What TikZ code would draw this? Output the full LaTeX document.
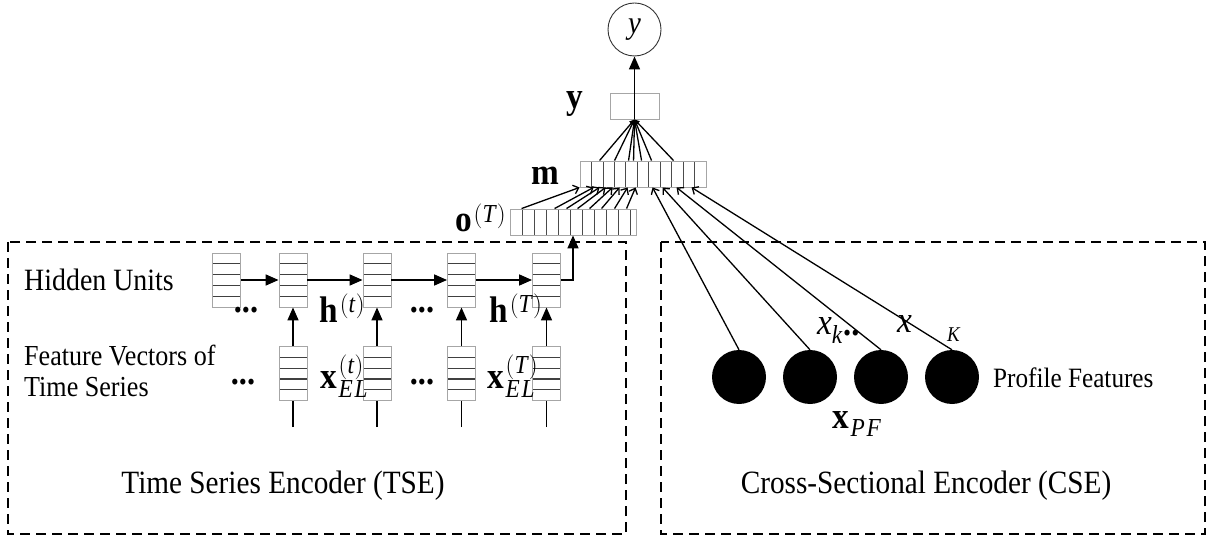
\documentclass[tikz,border=0pt]{standalone}
\usepackage{fontspec}
\setmainfont{Liberation Serif}[FakeStretch=0.9]
\usetikzlibrary{arrows.meta,calc}
\newcommand\fsz[1]{\fontsize{#1}{#1}\selectfont}
\begin{document}
\begin{tikzpicture}[x=1pt,y=-1pt,
  stackbox/.style={draw=gray!70, line width=0.9pt, fill=white, minimum width=28pt, minimum height=54pt, inner sep=0pt,
    path picture={\foreach \k in {1,...,4}{\draw[line width=1.2pt, black!75]
      ($(path picture bounding box.north west)!\k/5!(path picture bounding box.south west)$) --
      ($(path picture bounding box.north east)!\k/5!(path picture bounding box.south east)$);}}},
  cellrow/.style={draw=gray!70, line width=0.9pt, fill=white, minimum width=126pt, minimum height=26pt, inner sep=0pt,
    path picture={\foreach \k in {1,...,10}{\draw[line width=0.8pt, black!70]
      ($(path picture bounding box.south west)!\k/#1!(path picture bounding box.south east)$) --
      ($(path picture bounding box.north west)!\k/#1!(path picture bounding box.north east)$);}}},
  conn/.style={line width=1.6pt, -{Triangle[length=13pt,width=11pt]}},
  plain/.style={line width=1.6pt},
  thinarr/.style={line width=1.3pt, -{Straight Barb[length=5pt,width=9pt]}},
  toy/.style={line width=1.3pt, -{Triangle[length=5pt,width=5pt]}},
  dashbox/.style={dash pattern=on 10pt off 6pt, line width=1.4pt},
  ball/.style={circle, fill=black, minimum size=54pt, inner sep=0pt},
  lbl/.style={inner sep=0pt, font=\fsz{31}},
  mlbl/.style={inner sep=0pt, font=\fsz{37}},
  dots/.style={inner sep=0pt, font=\fsz{36}\bfseries}
]
\useasboundingbox (0,0) rectangle (1209,537);
% encoder boxes
\draw[dashbox] (8,242) rectangle (626,534);
\draw[dashbox] (661,242) rectangle (1205,534);
\node[inner sep=0pt, font=\fsz{32.5}] (tse) at (283,486) {Time Series Encoder (TSE)};
\node[inner sep=0pt, font=\fsz{32.5}] (cse) at (926,486) {Cross-Sectional Encoder (CSE)};
% hidden units and feature vectors
\node[stackbox] (h0) at (226.5,280) {};
\node[stackbox] (h1) at (293,280) {};
\node[stackbox] (h2) at (377,280) {};
\node[stackbox] (h3) at (461.5,280) {};
\node[stackbox] (h4) at (546.5,280) {};
\node[stackbox] (f1) at (293,373.5) {};
\node[stackbox] (f2) at (377,373.5) {};
\node[stackbox] (f3) at (461.5,373.5) {};
\node[stackbox] (f4) at (546.5,373.5) {};
\coordinate (i1) at (293,427);
\coordinate (i2) at (377,427);
\coordinate (i3) at (461.5,427);
\coordinate (i4) at (546.5,427);
\draw[conn] (h0.east) -- (h1.west);
\draw[conn] (h1.east) -- (h2.west);
\draw[conn] (h2.east) -- (h3.west);
\draw[conn] (h3.east) -- (h4.west);
\foreach \n in {1,2,3,4}{
  \draw[conn] (f\n.north) -- (h\n.south);
  \draw[plain] (i\n) -- (f\n.south);
}
% labels TSE
\node[lbl, anchor=west] (hu) at (24,280) {Hidden Units};
\node[inner sep=0pt, anchor=west, align=left, font=\fontsize{29}{31}\selectfont] (fv) at (24,371) {Feature Vectors of\\Time Series};
\node[dots] (d1) at (246,310) {...};
\node[dots] (d2) at (422,310) {...};
\node[dots] (d3) at (243,382) {...};
\node[dots] (d4) at (422,382) {...};
\node[mlbl, anchor=base west] (lh1) at (319,322) {$\mathbf{h}^{(\mathit{t})}$};
\node[mlbl, anchor=base west] (lh2) at (489,322) {$\mathbf{h}^{(\mathit{T})}$};
\node[mlbl, anchor=base west] (lx1) at (320,388) {$\mathbf{x}_{\mathit{EL}}^{(\mathit{t})}$};
\node[mlbl, anchor=base west] (lx2) at (487,388) {$\mathbf{x}_{\mathit{EL}}^{(\mathit{T})}$};
% o, m, y
\node[cellrow=10.5] (o) at (573,222) {};
\node[cellrow=11] (m) at (643,174) {};
\draw[conn] (h4.east) -| (o.south);
\node[draw=gray!70, line width=0.9pt, minimum width=49pt, minimum height=26pt, inner sep=0pt] (yb) at (634.5,106) {};
\node[circle, draw=black!80, line width=0.9pt, minimum size=53pt, inner sep=0pt, font=\fsz{32}] (yc) at (634.5,29.5) {\textit{y}};
\draw[conn] (yb.south) -- (yc.south);
\node[mlbl, anchor=base west] (lo) at (455,232) {$\mathbf{o}^{(\mathit{T})}$};
\node[mlbl] (lm) at (547,176) {$\mathbf{m}$};
\node[mlbl] (ly) at (576,104) {$\mathbf{y}$};
\foreach \a/\b in {12/0,45/14,57/20,68/26,80/33,92/40,105/48,117/56}{
  \draw[thinarr] ([xshift=\a pt]o.north west) -- ([xshift=\b pt]m.south west);
}
\foreach \a in {20,35,49,54,62,72,94}{
  \draw[toy] ([xshift=\a pt]m.north west) -- (yb.south);
}
% CSE
\node[ball] (c1) at (739,377) {};
\node[ball] (c2) at (810,377) {};
\node[ball] (c3) at (881,377) {};
\node[ball] (c4) at (952,377) {};
\draw[thinarr] (c1.north) -- ([xshift=73pt]m.south west);
\draw[thinarr] (c2.north) -- ([xshift=83pt]m.south west);
\draw[thinarr] (c3.north) -- ([xshift=97pt]m.south west);
\draw[thinarr] (c4.north) -- ([xshift=112pt]m.south west);
\node[mlbl, anchor=base west] (xk) at (817,334) {\textit{x}$_{\mathit{k}}$};
\node[dots, anchor=base west] (d5) at (843,335) {..};
\node[mlbl, anchor=base west] (xx) at (897,332) {\textit{x}};
\node[inner sep=0pt, font=\fsz{21}, anchor=base west] (kk) at (947,341) {\textit{K}};
\node[mlbl, anchor=base west] (xpf) at (832,428) {$\mathbf{x}_{\mathit{PF}}$};
\node[inner sep=0pt, font=\fsz{28}, anchor=west] (pf) at (993,378) {Profile Features};
\end{tikzpicture}
\end{document}
